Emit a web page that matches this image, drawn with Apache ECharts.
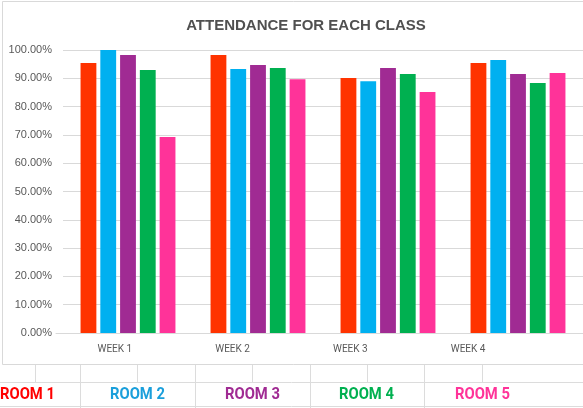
<!DOCTYPE html>
<html>
<head>
<meta charset="utf-8">
<script src="https://cdn.jsdelivr.net/npm/echarts@6/dist/echarts.min.js"></script>
<style>
  html, body { margin: 0; padding: 0; background: #fff; }
  #chart { width: 583px; height: 408px; }
</style>
</head>
<body>
<div id="chart"></div>
<script>
// data (percent)
const weeks = ['WEEK 1', 'WEEK 2', 'WEEK 3', 'WEEK 4']
const rooms = ['ROOM 1', 'ROOM 2', 'ROOM 3', 'ROOM 4', 'ROOM 5']
const room1 = [95.4, 98.2, 90.1, 95.4]
const room2 = [100.0, 93.3, 89.0, 96.5]
const room3 = [98.2, 94.7, 93.6, 91.5]
const room4 = [92.9, 93.6, 91.5, 88.3]
const room5 = [69.3, 89.7, 85.2, 91.9]
const yTicks = [0, 10, 20, 30, 40, 50, 60, 70, 80, 90, 100]

const barColors = ['#FF3300', '#00B0F0', '#A02B93', '#00B050', '#FF3399']
const labelColors = ['#FF0000', '#1A9FDB', '#A02B93', '#00B050', '#FF3399']
const values = [room1, room2, room3, room4, room5]

const myChart = echarts.init(document.getElementById('chart'))

// spreadsheet cells under the chart box
const cellLine = { stroke: '#DCDCDC', lineWidth: 1 }
const line = (x1, y1, x2, y2) => ({ type: 'line', silent: true, shape: { x1, y1, x2, y2 }, style: cellLine })
const roomStarts = [0, 110, 225, 339, 455]

const option = {
  animation: false,
  title: {
    text: 'ATTENDANCE FOR EACH CLASS',
    left: 301,
    textAlign: 'center',
    top: 13,
    textStyle: { fontFamily: 'Liberation Sans', fontSize: 15, fontWeight: 'bold', color: '#505050' }
  },
  graphic: [
    { type: 'rect', silent: true, z: -10, shape: { x: 2.5, y: 1.5, width: 600, height: 363 }, style: { fill: '#fff', stroke: '#D9D9D9', lineWidth: 1 } },
    line(0, 382.5, 583, 382.5),
    line(0, 406.5, 583, 406.5),
    ...[35, 137, 252, 367, 482].map(x => line(x + 0.5, 365, x + 0.5, 382)),
    ...[80, 195, 310, 424].map(x => line(x + 0.5, 365, x + 0.5, 408)),
    ...rooms.map((r, i) => ({
      type: 'text', silent: true,
      x: roomStarts[i], y: 395, scaleX: 0.87,
      style: {
        text: r, fill: labelColors[i], align: 'left', verticalAlign: 'middle',
        font: 'bold 17px Roboto, "Liberation Sans", sans-serif'
      }
    }))
  ],
  grid: [
    { left: 63, width: 524, top: 50, bottom: 75 },
    { left: 56, width: 471, top: 50, bottom: 75 }
  ],
  xAxis: [
    {
      type: 'category', data: weeks, gridIndex: 0,
      axisLine: { show: false }, axisTick: { show: false }, axisLabel: { show: false }
    },
    {
      type: 'category', data: weeks, gridIndex: 1,
      axisLine: { show: true, lineStyle: { color: '#D9D9D9' } },
      axisTick: { show: false },
      axisLabel: { margin: 11, color: '#595959', fontSize: 10, fontFamily: 'Roboto' }
    }
  ],
  yAxis: [
    {
      type: 'value', gridIndex: 0, min: 0, max: 100, interval: 10,
      axisLine: { show: false }, axisTick: { show: false },
      splitLine: { lineStyle: { color: '#D9D9D9' } },
      axisLabel: {
        margin: 11, color: '#595959', fontSize: 11, fontFamily: 'Liberation Sans',
        formatter: v => yTicks.includes(v) ? v.toFixed(2) + '%' : ''
      }
    },
    {
      type: 'value', gridIndex: 1, min: 0, max: 100, interval: 10, show: false
    }
  ],
  series: rooms.map((r, i) => ({
    name: r,
    type: 'bar',
    xAxisIndex: 0,
    yAxisIndex: 0,
    data: values[i],
    barGap: '25%',
    barCategoryGap: '27%',
    itemStyle: { color: barColors[i] }
  }))
}

myChart.setOption(option)
</script>
</body>
</html>
